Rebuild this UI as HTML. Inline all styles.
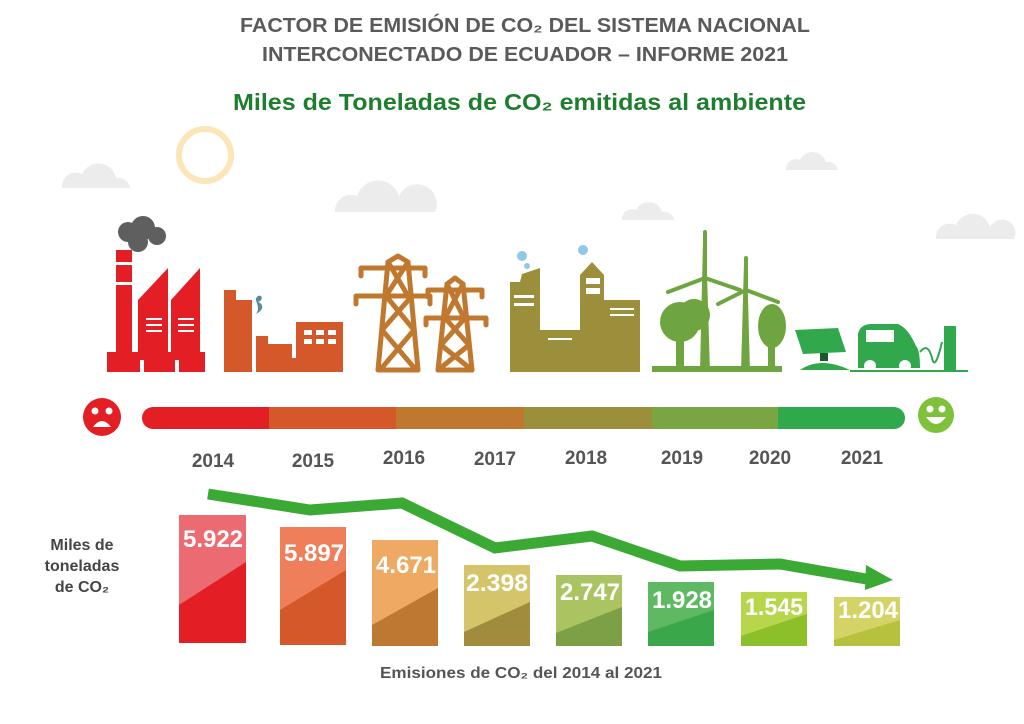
<!DOCTYPE html>
<html><head><meta charset="utf-8"><style>
html,body{margin:0;padding:0;background:#fff}
svg{display:block}
text{font-family:"Liberation Sans",sans-serif;font-weight:bold}
</style></head><body>
<svg width="1024" height="724" viewBox="0 0 1024 724" xmlns="http://www.w3.org/2000/svg">
<text x="240" y="32" font-size="20" fill="#5a5a5a" textLength="570" lengthAdjust="spacingAndGlyphs">FACTOR DE EMISIÓN DE CO₂ DEL SISTEMA NACIONAL</text>
<text x="262" y="61" font-size="20" fill="#5a5a5a" textLength="526" lengthAdjust="spacingAndGlyphs">INTERCONECTADO DE ECUADOR – INFORME 2021</text>
<text x="233" y="110" font-size="23" fill="#1f7d2f" textLength="573" lengthAdjust="spacingAndGlyphs">Miles de Toneladas de CO₂ emitidas al ambiente</text>

<circle cx="205" cy="155" r="26" fill="none" stroke="#fbe6b8" stroke-width="6"/>
<g fill="#ececec">
<path d="M62 188 a14 14 0 0 1 20-14 a18 18 0 0 1 34 4 a12 12 0 0 1 14 10 z"/>
<path d="M335 212 a16 16 0 0 1 22-16 a22 22 0 0 1 42 0 a16 16 0 0 1 36 16 z"/>
<path d="M622 220 a10 10 0 0 1 14-10 a14 14 0 0 1 26 2 a10 10 0 0 1 12 8 z"/>
<path d="M786 170 a10 10 0 0 1 14-10 a14 14 0 0 1 26 2 a10 10 0 0 1 12 8 z"/>
<path d="M936 239 a14 14 0 0 1 20-14 a18 18 0 0 1 34 2 a12 12 0 0 1 24 12 z"/>
</g>

<g fill="#e31e24">
<circle cx="128" cy="232" r="10" fill="#5f5f5f"/><circle cx="143" cy="228" r="12" fill="#5f5f5f"/><circle cx="157" cy="236" r="9" fill="#5f5f5f"/><circle cx="138" cy="242" r="10" fill="#5f5f5f"/>
<rect x="116" y="250" width="16" height="110"/>
<polygon points="138,360 138,300 168,268 168,360"/>
<polygon points="171,360 171,300 200,268 200,360"/>
<rect x="107" y="352" width="98" height="20"/>
</g>
<g fill="#fff"><rect x="116" y="262" width="16" height="3"/><rect x="116" y="282" width="16" height="3"/><rect x="146" y="318" width="16" height="2"/><rect x="146" y="324" width="16" height="2"/><rect x="146" y="330" width="16" height="2"/><rect x="178" y="318" width="16" height="2"/><rect x="178" y="324" width="16" height="2"/><rect x="178" y="330" width="16" height="2"/><rect x="140" y="360" width="4" height="12"/><rect x="175" y="360" width="4" height="12"/></g>
<g fill="#d4582a">
<rect x="224" y="290" width="12" height="82"/><rect x="224" y="300" width="28" height="72"/>
<rect x="256" y="336" width="12" height="36"/><rect x="256" y="344" width="36" height="28"/>
<rect x="292" y="358" width="6" height="14"/><rect x="296" y="322" width="47" height="50"/>
<path d="M258 296 c-6 4 4 10 -2 18 c8 -4 8 -10 2 -12 c6 -2 4 -8 0 -6z" fill="#5a8a98"/>
</g>
<g fill="#fff"><rect x="304" y="330" width="8" height="5"/><rect x="316" y="330" width="8" height="5"/><rect x="328" y="330" width="8" height="5"/><rect x="304" y="339" width="8" height="5"/><rect x="316" y="339" width="8" height="5"/><rect x="328" y="339" width="8" height="5"/></g>
<!-- towers -->
<g stroke="#c0782f" stroke-width="5" fill="none" stroke-linejoin="round" stroke-linecap="round">
<path d="M378 370 L388 262 L398 256 L408 262 L418 370 Z"/>
<path d="M361 268 H425 M356 296 H430 M361 268 L361 276 M425 268 L425 276 M356 296 L356 304 M430 296 L430 304"/>
<path d="M388 262 L408 296 M408 262 L386 296 M386 296 L414 330 M412 296 L382 330 M382 330 L416 370 M414 330 L380 370"/>
<path d="M438 370 L447 284 L455 278 L463 284 L472 370 Z"/>
<path d="M428 290 H482 M426 318 H486 M428 290 V297 M482 290 V297 M426 318 V325 M486 318 V325"/>
<path d="M447 284 L464 318 M463 284 L445 318 M445 318 L469 345 M465 318 L441 345 M441 345 L472 370 M469 345 L438 370"/>
</g>
<g fill="#9c8f3c">
<polygon points="510,372 510,282 520,282 522,274 540,268 540,372"/>
<rect x="540" y="330" width="40" height="42"/>
<polygon points="580,372 580,275 592,262 604,275 604,372"/>
<rect x="604" y="300" width="36" height="72"/>
<rect x="510" y="340" width="130" height="32"/>
<circle cx="522" cy="256" r="5" fill="#8ec8ea"/><circle cx="527" cy="266" r="3" fill="#8ec8ea"/><circle cx="583" cy="250" r="5" fill="#8ec8ea"/>
</g>
<g fill="#fff"><rect x="514" y="295" width="20" height="3"/><rect x="514" y="303" width="20" height="3"/><rect x="586" y="278" width="14" height="6"/><rect x="586" y="288" width="14" height="6"/><rect x="548" y="338" width="24" height="2"/><rect x="610" y="308" width="24" height="2"/><rect x="610" y="314" width="24" height="2"/></g>
<g fill="#6fa540">
<circle cx="680" cy="322" r="20"/><circle cx="694" cy="315" r="16"/><rect x="676" y="330" width="8" height="42"/>
<ellipse cx="772" cy="326" rx="14" ry="22"/><rect x="768" y="335" width="7" height="37"/>
<polygon points="700,372 703,240 706,240 710,372"/>
<polygon points="741,372 744,262 747,262 750,372"/>
<rect x="652" y="366" width="130" height="6"/>
</g>
<g stroke="#6fa540" stroke-width="4" stroke-linecap="round"><path d="M705 278 V232 M705 278 L668 292 M705 278 L740 290"/><path d="M746 290 V258 M746 290 L718 304 M746 290 L778 302"/></g>
<g fill="#31a84c">
<polygon points="795,330 838,328 846,352 803,354"/>
<rect x="820" y="353" width="8" height="8" fill="#1c5a2a"/>
<path d="M800 370 q20 -14 50 0z"/>
<path d="M858 368 L858 334 Q860 324 872 324 L898 324 Q908 328 916 346 Q920 350 920 368Z"/>
<circle cx="870" cy="366" r="6" fill="#fff"/><circle cx="905" cy="366" r="6" fill="#fff"/>
<rect x="944" y="326" width="12" height="44"/>
<rect x="850" y="370" width="118" height="2"/>
</g>
<path d="M920 352 q8 -10 12 6 q3 14 10 -16" stroke="#31a84c" stroke-width="2" fill="none"/>
<rect x="866" y="330" width="28" height="12" fill="#fff"/>

<circle cx="102" cy="417" r="19" fill="#e31e24"/>
<circle cx="95" cy="411" r="3.5" fill="#fff"/><circle cx="109" cy="411" r="3.5" fill="#fff"/>
<path d="M93 427 q9 -12 18 0z" fill="#fff"/>
<rect x="142" y="407" width="30" height="22" rx="11" fill="#e31e24"/>
<rect x="156" y="407" width="113" height="22" fill="#e31e24"/>
<rect x="269" y="407" width="127" height="22" fill="#d4582a"/>
<rect x="396" y="407" width="128" height="22" fill="#c0782f"/>
<rect x="524" y="407" width="128" height="22" fill="#9c8f3c"/>
<rect x="652" y="407" width="126" height="22" fill="#7aa543"/>
<rect x="778" y="407" width="114" height="22" fill="#30a84c"/>
<rect x="880" y="407" width="25" height="22" rx="11" fill="#30a84c"/>
<circle cx="936" cy="415" r="18" fill="#7dc23a"/>
<circle cx="930" cy="409" r="3.5" fill="#fff"/><circle cx="942" cy="409" r="3.5" fill="#fff"/>
<path d="M926 417 h20 q-10 14 -20 0z" fill="#fff"/>

<g font-size="19" fill="#555" text-anchor="middle">
<text x="213" y="467">2014</text><text x="313" y="467">2015</text><text x="404" y="464">2016</text><text x="495" y="465">2017</text><text x="586" y="464">2018</text><text x="682" y="464">2019</text><text x="770" y="464">2020</text><text x="862" y="464">2021</text>
</g>

<g>
<rect x="179" y="515" width="67" height="128" fill="#ec6b72"/><polygon points="179,643 179,605 246,562 246,643" fill="#e31e24"/>
<rect x="280" y="527" width="66" height="118" fill="#ef7f5b"/><polygon points="280,645 280,610 346,570 346,645" fill="#d4582a"/>
<rect x="372" y="540" width="66" height="106" fill="#eeaa62"/><polygon points="372,646 372,625 438,588 438,646" fill="#bd7832"/>
<rect x="464" y="565" width="66" height="81" fill="#d4c46a"/><polygon points="464,646 464,632 530,602 530,646" fill="#a08c3c"/>
<rect x="556" y="575" width="66" height="71" fill="#a9c460"/><polygon points="556,646 556,633 622,607 622,646" fill="#7da046"/>
<rect x="648" y="582" width="66" height="64" fill="#5fb862"/><polygon points="648,646 648,632 714,610 714,646" fill="#3aa84a"/>
<rect x="741" y="592" width="66" height="54" fill="#b8d64c"/><polygon points="741,646 741,636 807,614 807,646" fill="#8cc02a"/>
<rect x="834" y="597" width="66" height="49" fill="#d4d466"/><polygon points="834,646 834,640 900,620 900,646" fill="#b6c23e"/>
</g>
<g font-size="24" fill="#fff">
<text x="183" y="547" textLength="60" lengthAdjust="spacingAndGlyphs">5.922</text>
<text x="284" y="561" textLength="60" lengthAdjust="spacingAndGlyphs">5.897</text>
<text x="376" y="573" textLength="60" lengthAdjust="spacingAndGlyphs">4.671</text>
<text x="466" y="591" textLength="62" lengthAdjust="spacingAndGlyphs">2.398</text>
<text x="560" y="600" textLength="60" lengthAdjust="spacingAndGlyphs">2.747</text>
<text x="652" y="608" textLength="60" lengthAdjust="spacingAndGlyphs">1.928</text>
<text x="745" y="615" textLength="58" lengthAdjust="spacingAndGlyphs">1.545</text>
<text x="838" y="618" textLength="60" lengthAdjust="spacingAndGlyphs">1.204</text>
</g>
<polyline points="208,494 310,510 402,503 495,548 592,536 680,566 780,564 872,580" fill="none" stroke="#3aaa35" stroke-width="11" stroke-linejoin="miter"/>
<polygon points="866,565 893,580 865,590" fill="#3aaa35"/>

<g font-size="16" fill="#444" text-anchor="middle">
<text x="82" y="550">Miles de</text><text x="82" y="571">toneladas</text><text x="82" y="592">de CO₂</text>
</g>
<text x="521" y="678" font-size="16" fill="#555" text-anchor="middle" textLength="282" lengthAdjust="spacingAndGlyphs">Emisiones de CO₂ del 2014 al 2021</text>
</svg>
</body></html>
